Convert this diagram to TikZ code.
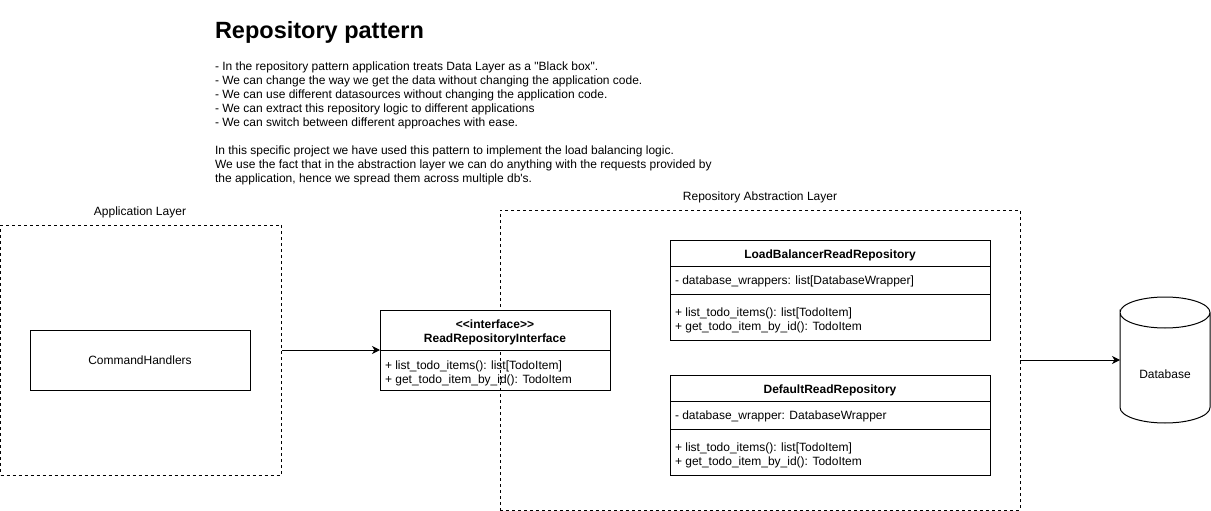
\documentclass[tikz,border=0pt]{standalone}
\usepackage{fontspec}
\setmainfont{Liberation Sans}[Ligatures=TeXOff]
\usetikzlibrary{arrows.meta}
\tikzset{
  x=1pt,y=-1pt,
  every node/.style={inner sep=0pt,outer sep=0pt,font=\fontsize{12}{14}\selectfont},
  layerbox/.style={draw=black,dashed,dash pattern=on 3pt off 3pt,line width=1pt,anchor=north west},
  solidbox/.style={draw=black,line width=1pt,anchor=north west},
  headbox/.style={draw=black,fill=white,line width=1pt,anchor=north west},
  caption/.style={anchor=base,align=center},
  member/.style={anchor=base west,align=left},
  methods/.style={anchor=north west,align=left},
  divider/.style={draw=black,line width=1pt},
  link/.style={draw=black,line width=1pt,-{Stealth[length=8pt,width=8pt,inset=2.5pt]}}
}
\begin{document}
\begin{tikzpicture}
\useasboundingbox (0,0) rectangle (1211,511);
\fill[white] (0,0) rectangle (1211,511);

\node[anchor=base west,font=\fontsize{23.5}{28}\bfseries\selectfont] (title) at (215,38.5) {Repository pattern};
\node[anchor=north west,align=left] (notes) at (215,62) {- In the repository pattern application treats Data Layer as a "Black box".\\
- We can change the way we get the data without changing the application code.\\
- We can use different datasources without changing the application code.\\
- We can extract this repository logic to different applications\\
- We can switch between different approaches with ease.\\[14pt]
In this specific project we have used this pattern to implement the load balancing logic.\\
We use the fact that in the abstraction layer we can do anything with the requests provided by\\
the application, hence we spread them across multiple db's.};

\node[caption] (applabel) at (140,215) {Application Layer};
\node[caption] (repolabel) at (760,200) {Repository Abstraction Layer};

\node[layerbox,minimum width=281pt,minimum height=250pt] (applayer) at (0.5,225) {};
\node[layerbox,minimum width=520pt,minimum height=300pt] (repolayer) at (500,210) {};

\node[solidbox,minimum width=220pt,minimum height=60pt] (handlers) at (30,330) {CommandHandlers};

% interface
\node[solidbox,minimum width=230pt,minimum height=40pt] (ifacebody) at (380,350) {};
\node[headbox,minimum width=230pt,minimum height=40pt] (ifacehead) at (380,310) {};
\node[anchor=north,align=center] (ifacetitle) at (495,320) {\bfseries <<interface>>\\\bfseries ReadRepositoryInterface};
\node[methods] (ifacem) at (385,361) {+ list\_todo\_items(): list[TodoItem]\\+ get\_todo\_item\_by\_id(): TodoItem};

% load balancer repository
\node[solidbox,minimum width=320pt,minimum height=100pt] (lbbox) at (670,240) {};
\node[font=\fontsize{12}{14}\bfseries\selectfont,anchor=base] (lbname) at (830,258) {LoadBalancerReadRepository};
\draw[divider] (lbbox.north west |- 0,266) -- (lbbox.north east |- 0,266);
\node[member] (lbfield) at (675,284) {- database\_wrappers: list[DatabaseWrapper]};
\draw[divider] (lbbox.north west |- 0,294.5) -- (lbbox.north east |- 0,294.5);
\node[methods] (lbm) at (675,308) {+ list\_todo\_items(): list[TodoItem]\\+ get\_todo\_item\_by\_id(): TodoItem};

% default repository
\node[solidbox,minimum width=320pt,minimum height=100pt] (defbox) at (670,375) {};
\node[font=\fontsize{12}{14}\bfseries\selectfont,anchor=base] (defname) at (830,393) {DefaultReadRepository};
\draw[divider] (defbox.north west |- 0,401) -- (defbox.north east |- 0,401);
\node[member] (deffield) at (675,419) {- database\_wrapper: DatabaseWrapper};
\draw[divider] (defbox.north west |- 0,429.5) -- (defbox.north east |- 0,429.5);
\node[methods] (defm) at (675,443) {+ list\_todo\_items(): list[TodoItem]\\+ get\_todo\_item\_by\_id(): TodoItem};

% database
\node[minimum width=90pt,minimum height=126pt,anchor=north west] (db) at (1120,297) {};
\node[anchor=base] (dblabel) at (1165,378) {Database};
\draw[black,line width=1pt] (db.west |- 0,312.5)
  arc[start angle=180,end angle=0,x radius=45pt,y radius=15.5pt]
  arc[start angle=0,end angle=-180,x radius=45pt,y radius=15.5pt]
  -- (db.west |- 0,407.5)
  arc[start angle=180,end angle=360,x radius=45pt,y radius=15.5pt]
  -- (db.east |- 0,312.5);

% connectors
\draw[link] (applayer.east |- 0,350) -- (ifacehead.south west);
\draw[link] (repolayer.east |- 0,360) -- (db.west |- 0,360);
\end{tikzpicture}
\end{document}
